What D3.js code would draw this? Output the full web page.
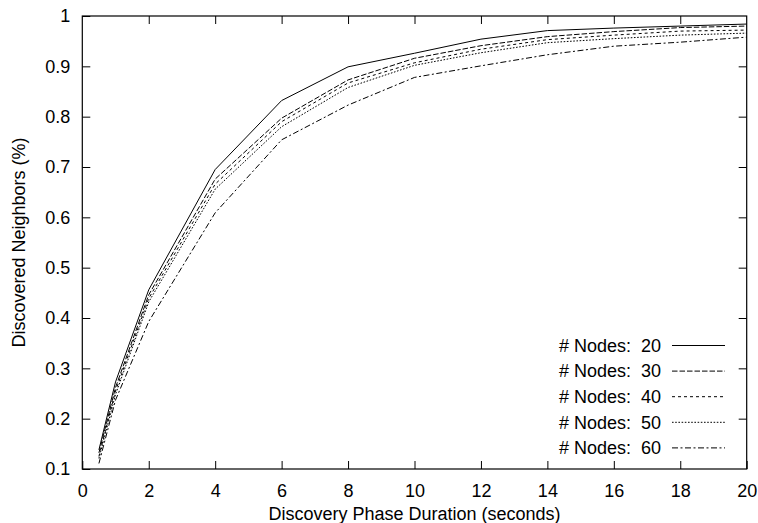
<!DOCTYPE html>
<html>
<head>
<meta charset="utf-8">
<script src="https://cdn.jsdelivr.net/npm/d3@7"></script>
<style>
  body { margin: 0; background: #fff; }
  text { font-family: "Liberation Sans", Arial, sans-serif; fill: #000; }
</style>
</head>
<body>
<div id="chart"></div>
<script>
/***********************************************/
//                 CHART DATA                  //
/***********************************************/

const durations = [0.5, 1, 2, 4, 6, 8, 10, 12, 14, 16, 18, 20];

const nodes20 = [0.138, 0.273, 0.456, 0.695, 0.832, 0.899, 0.926, 0.954, 0.971, 0.976, 0.980, 0.984];
const nodes30 = [0.132, 0.262, 0.446, 0.676, 0.797, 0.873, 0.916, 0.941, 0.959, 0.969, 0.977, 0.980];
const nodes40 = [0.125, 0.255, 0.439, 0.666, 0.790, 0.867, 0.907, 0.934, 0.953, 0.962, 0.970, 0.972];
const nodes50 = [0.121, 0.248, 0.432, 0.656, 0.780, 0.858, 0.902, 0.927, 0.947, 0.955, 0.962, 0.966];
const nodes60 = [0.111, 0.237, 0.393, 0.609, 0.754, 0.823, 0.878, 0.901, 0.923, 0.940, 0.948, 0.958];

const seriesNames = ["# Nodes:  20", "# Nodes:  30", "# Nodes:  40", "# Nodes:  50", "# Nodes:  60"];
const seriesValues = [nodes20, nodes30, nodes40, nodes50, nodes60];

const xTicks = [0, 2, 4, 6, 8, 10, 12, 14, 16, 18, 20];
const yTicks = [0.1, 0.2, 0.3, 0.4, 0.5, 0.6, 0.7, 0.8, 0.9, 1];

// gnuplot style dash types
const dashes = ["none", "5.5,2", "3,3", "1.6,1.6", "6,2.5,2,2.5"];

/***********************************************/
//                   LAYOUT                    //
/***********************************************/

const width = 758,
    height = 523,
    margin = {top: 16, right: 11.3, bottom: 54, left: 82.3};

const fontSize = 18;

const svg = d3.select("#chart")
  .append("svg")
    .attr("width", width)
    .attr("height", height);

const x = d3.scaleLinear()
    .domain([0, 20])
    .range([margin.left, width - margin.right]);

const y = d3.scaleLinear()
    .domain([0.1, 1])
    .range([height - margin.bottom, margin.top]);

// ticks point inward on all four sides
const tickLen = 8;

svg.append("g")
    .attr("transform", `translate(0, ${height - margin.bottom})`)
    .call(d3.axisBottom(x).tickValues(xTicks).tickSize(-tickLen).tickPadding(15).tickFormat(d3.format("d")))
    .call(g => g.select(".domain").remove())
    .call(g => g.selectAll("text").attr("font-size", fontSize).attr("dy", "0.71em"));

svg.append("g")
    .attr("transform", `translate(0, ${margin.top})`)
    .call(d3.axisTop(x).tickValues(xTicks.slice(1, -1)).tickSize(-tickLen).tickFormat(""))
    .call(g => g.select(".domain").remove());

svg.append("g")
    .attr("transform", `translate(${margin.left}, 0)`)
    .call(d3.axisLeft(y).tickValues(yTicks).tickSize(-tickLen).tickPadding(12).tickFormat(d => d === 1 ? "1" : d3.format(".1f")(d)))
    .call(g => g.select(".domain").remove())
    .call(g => g.selectAll("text").attr("font-size", fontSize));

svg.append("g")
    .attr("transform", `translate(${width - margin.right}, 0)`)
    .call(d3.axisRight(y).tickValues(yTicks.slice(1, -1)).tickSize(-tickLen).tickFormat(""))
    .call(g => g.select(".domain").remove());

svg.selectAll(".tick line").attr("stroke", "#000");

// border
svg.append("rect")
    .attr("x", x(0))
    .attr("y", y(1))
    .attr("width", x(20) - x(0))
    .attr("height", y(0.1) - y(1))
    .attr("fill", "none")
    .attr("stroke", "#000")
    .attr("stroke-width", 1.2);

/***********************************************/
//                   LINES                     //
/***********************************************/

const line = d3.line()
    .x(d => x(d[0]))
    .y(d => y(d[1]));

svg.selectAll(".series")
  .data(seriesValues)
  .join("path")
    .attr("class", "series")
    .attr("d", vals => line(vals.map((v, i) => [durations[i], v])))
    .attr("fill", "none")
    .attr("stroke", "#000")
    .attr("stroke-width", 1)
    .attr("stroke-dasharray", (d, i) => dashes[i]);

/***********************************************/
//                   LEGEND                    //
/***********************************************/

const legend = svg.append("g")
    .selectAll("g")
    .data(seriesNames)
    .join("g")
      .attr("transform", (d, i) => `translate(0, ${345.5 + i * 25.6})`);

legend.append("text")
    .attr("x", 661)
    .attr("dy", "0.35em")
    .attr("text-anchor", "end")
    .attr("font-size", fontSize)
    .style("white-space", "pre")
    .text(d => d);

legend.append("line")
    .attr("x1", 672)
    .attr("x2", 725)
    .attr("stroke", "#000")
    .attr("stroke-width", 1)
    .attr("stroke-dasharray", (d, i) => dashes[i]);

/***********************************************/
//                 AXIS TITLES                 //
/***********************************************/

svg.append("text")
    .attr("x", (x(0) + x(20)) / 2)
    .attr("y", 520)
    .attr("text-anchor", "middle")
    .attr("font-size", fontSize)
    .text("Discovery Phase Duration (seconds)");

svg.append("text")
    .attr("transform", `translate(25, ${(y(0.1) + y(1)) / 2}) rotate(-90)`)
    .attr("text-anchor", "middle")
    .attr("font-size", fontSize)
    .text("Discovered Neighbors (%)");
</script>
</body>
</html>
